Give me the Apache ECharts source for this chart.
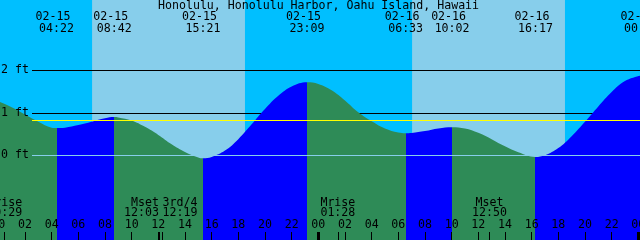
<!DOCTYPE html>
<html><head><meta charset="utf-8">
<script src="https://cdn.jsdelivr.net/npm/echarts@6/dist/echarts.min.js"></script>
<style>html,body{margin:0;padding:0;background:#00BFFF}#c{width:640px;height:240px}</style>
</head><body><div id="c"></div>
<script>
// ---------------- data ----------------
const chartTitle = 'Honolulu, Honolulu Harbor, Oahu Island, Hawaii';
// hourly tide heights (ft), hours counted from 02-15 00:00
const hours  = [0,1,2,3,4,5,6,7,8,9,10,11,12,13,14,15,16,17,18,19,20,21,22,23,24,25,26,27,28,29,30,31,32,33,34,35,36,37,38,39,40,41,42,43,44,45,46,47,48];
const levels = [1.27,1.13,0.96,0.79,0.65,0.65,0.71,0.79,0.87,0.89,0.82,0.67,0.48,0.26,0.08,-0.05,-0.04,0.11,0.38,0.73,1.09,1.40,1.62,1.72,1.68,1.53,1.29,1.01,0.80,0.63,0.535,0.525,0.57,0.63,0.66,0.63,0.53,0.38,0.21,0.07,-0.03,0.00,0.17,0.45,0.79,1.15,1.49,1.75,1.87];
// high / low tide events
const extremeDay    = [0,0,0,0,1,1,1,2];
const extremeDate   = ['02-15','02-15','02-15','02-15','02-16','02-16','02-16','02-17'];
const extremeClock  = ['04:22','08:42','15:21','23:09','06:33','10:02','16:17','00:14'];
const extremeLevel  = [0.64,0.90,-0.07,1.72,0.52,0.66,-0.04,1.88];
// moon events
const moonDay   = [0,0,0,1,1];
const moonName  = ['Mrise','Mset','3rd/4','Mrise','Mset'];
const moonClock = ['00:29','12:03','12:19','01:28','12:50'];
// sun
const sunDay     = [0,1];
const sunrise    = ['07:02','07:02'];
const sunset     = ['18:30','18:30'];
// axis ticks
const hourLabels = [0,2,4,6,8,10,12,14,16,18,20,22,24,26,28,30,32,34,36,38,40,42,44,46,48];
const midnights  = [0,24,48];
const depthLabels = [0,1,2];
const meanLevel = 0.82;

// ---------------- helpers ----------------
const toH = (day, clock) => { const [h, m] = clock.split(':').map(Number); return day * 24 + h + m / 60; };
const pad2 = n => (n < 10 ? '0' : '') + n;
const extremeT = extremeClock.map((c, i) => toH(extremeDay[i], c));
const moonT = moonClock.map((c, i) => toH(moonDay[i], c));

const FONT = 'DejaVu Sans Mono';
const FS = 11.6;
const VIEW_START = 0.1275, VIEW_HOURS = 48, W = 640, EXTRA = 40;
const PPH = W / VIEW_HOURS;
const XMAX = VIEW_START + VIEW_HOURS + EXTRA / PPH;
const YMIN = -1.993, YMAX = 3.654;

// merge hourly readings and the extremes
let pts = [];
hours.forEach((t, i) => { if (!extremeT.some(e => Math.abs(e - t) < 0.3)) pts.push([t, levels[i]]); });
extremeT.forEach((t, i) => pts.push([t, extremeLevel[i]]));
pts.sort((a, b) => a[0] - b[0]);

const FLOOD = '#0000FF', EBB = '#2E8B57';
const pieces = [{ lt: extremeT[0], color: extremeLevel[0] < extremeLevel[1] ? EBB : FLOOD }];
for (let i = 0; i < extremeT.length; i++) {
  const rising = i + 1 < extremeT.length ? extremeLevel[i + 1] > extremeLevel[i] : extremeLevel[i] < extremeLevel[i - 1];
  const p = { gte: extremeT[i], color: rising ? FLOOD : EBB };
  if (i + 1 < extremeT.length) p.lt = extremeT[i + 1];
  pieces.push(p);
}

const txt = { fontFamily: FONT, fontSize: FS, color: '#000' };
const hiddenX = (grid, extra) => Object.assign({
  type: 'value', gridIndex: grid, min: 0, max: XMAX, z: 10,
  axisLine: { show: false, onZero: false }, splitLine: { show: false },
  axisTick: { show: false }, axisLabel: { show: false }
}, extra || {});

const option = {
  backgroundColor: '#00BFFF',
  animation: false,
  title: { text: chartTitle, left: 158, top: 0, padding: 0,
    textStyle: { fontFamily: FONT, fontSize: FS, fontWeight: 'normal', color: '#000' } },
  grid: [
    { left: -VIEW_START * PPH, right: -EXTRA, top: 0, bottom: 0, outerBoundsMode: 'none', containLabel: false },
    { left: 32, right: 0, top: 0, bottom: 0, outerBoundsMode: 'none', containLabel: false }
  ],
  xAxis: [
    // 0: hour labels + ticks
    hiddenX(0, {
      position: 'bottom',
      axisTick: { show: true, inside: true, length: 8, lineStyle: { color: '#000', width: 1 },
        customValues: hourLabels.concat(moonT) },
      axisLabel: Object.assign({ show: true, inside: true, margin: 9, customValues: hourLabels,
        formatter: v => pad2(Math.round(v) % 24) }, txt)
    }),
    // 1: thick midnight ticks
    hiddenX(0, {
      position: 'bottom',
      axisTick: { show: true, inside: true, length: 8, lineStyle: { color: '#000', width: 3 }, customValues: midnights }
    }),
    // 2: high/low labels at top
    hiddenX(0, {
      position: 'top',
      axisLabel: Object.assign({ show: true, inside: true, margin: 11, lineHeight: 12, customValues: extremeT,
        formatter: v => { const i = extremeT.findIndex(e => Math.abs(e - v) < 1e-6); return extremeDate[i] + ' \n' + extremeClock[i]; } }, txt)
    }),
    // 3: moon labels centred
    hiddenX(0, {
      position: 'bottom',
      axisLabel: Object.assign({ show: true, inside: true, margin: 22, lineHeight: 10,
        customValues: moonT.filter((t, i) => i !== 1 && i !== 2),
        formatter: v => { const i = moonT.findIndex(e => Math.abs(e - v) < 1e-6); return moonName[i] + '\n' + moonClock[i]; } }, txt)
    }),
    // 4: moon label pushed left
    hiddenX(0, {
      position: 'bottom',
      axisLabel: Object.assign({ show: true, inside: true, margin: 22, lineHeight: 10, align: 'right',
        customValues: [moonT[1]],
        formatter: v => moonName[1] + '\n' + moonClock[1] }, txt)
    }),
    // 5: moon label pushed right
    hiddenX(0, {
      position: 'bottom',
      axisLabel: Object.assign({ show: true, inside: true, margin: 22, lineHeight: 10, align: 'left',
        customValues: [moonT[2]],
        formatter: v => moonName[2] + '\n' + moonClock[2] }, txt)
    }),
    // 6: grid 1 axis
    { type: 'value', gridIndex: 1, min: 0, max: 1, show: false, axisLine: { onZero: false } }
  ],
  yAxis: [
    { type: 'value', gridIndex: 0, min: YMIN, max: YMAX, show: false, axisLine: { onZero: false } },
    { type: 'value', gridIndex: 1, min: YMIN, max: YMAX, z: 10,
      axisLine: { show: false, onZero: false }, axisTick: { show: false }, splitLine: { show: false },
      axisLabel: Object.assign({ show: true, margin: 3, customValues: depthLabels, formatter: v => v + ' ft' }, txt) }
  ],
  visualMap: { type: 'piecewise', show: false, dimension: 0, seriesIndex: 0, pieces: pieces },
  series: [
    { type: 'line', name: 'tide', xAxisIndex: 0, yAxisIndex: 0, z: 2,
      data: pts, smooth: 0.4, showSymbol: false, symbol: 'none',
      lineStyle: { width: 0, opacity: 0 }, areaStyle: { opacity: 1, origin: 'start' }, silent: true },
    { type: 'line', name: 'day', xAxisIndex: 0, yAxisIndex: 0, data: [], silent: true,
      markArea: { z: 0, silent: true, itemStyle: { color: '#87CEEB', borderWidth: 0 },
        data: sunDay.map((d, i) => [{ xAxis: toH(d, sunrise[i]) }, { xAxis: toH(d, sunset[i]) }]) } },
    { type: 'line', name: 'depth', xAxisIndex: 6, yAxisIndex: 1, data: [], silent: true,
      markLine: { z: 1, silent: true, symbol: ['none', 'none'], label: { show: false },
        lineStyle: { color: '#000', width: 1, type: 'solid' },
        data: depthLabels.filter(v => v !== 0).map(v => ({ yAxis: v })) } },
    { type: 'line', name: 'datum', xAxisIndex: 6, yAxisIndex: 1, data: [], silent: true,
      markLine: { z: 3, silent: true, symbol: ['none', 'none'], label: { show: false },
        data: [
          { yAxis: 0, lineStyle: { color: '#87CEEB', width: 1, type: 'solid' } },
          { yAxis: meanLevel, lineStyle: { color: '#FFFF00', width: 1, type: 'solid' } }
        ] } }
  ]
};
const chart = echarts.init(document.getElementById('c'), null, { renderer: 'canvas' });
chart.setOption(option);
</script></body></html>
